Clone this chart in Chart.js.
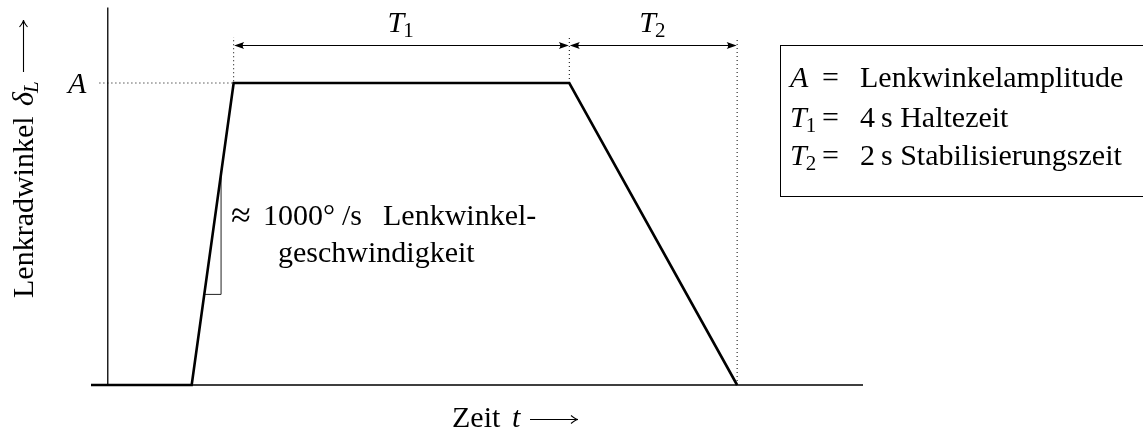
<!DOCTYPE html>
<html>
<head>
<meta charset="utf-8">
<script src="https://cdn.jsdelivr.net/npm/chart.js@4.4.1/dist/chart.umd.min.js"></script>
<style>
  html, body { margin: 0; padding: 0; background: #fff; }
  #wrap { width: 1143px; height: 432px; position: relative; }
</style>
</head>
<body>
<div id="wrap"><canvas id="lenkChart"></canvas></div>
<script>
// Zeit in s (0 = y-Achse), Lenkradwinkel normiert auf A = 1
const zeit = [-0.2, 1.0, 1.5, 5.5, 7.5];
const lenkwinkel = [0, 0, 1, 1, 0];

// Steigungsdreieck an der Rampe
const dreieckZeit = [1.15, 1.35, 1.35];
const dreieckWinkel = [0.30, 0.30, 0.70];

// gepunktete Hilfslinien (null = Lücke)
const hilfZeit = [-0.1, 1.5, 1.5, null, 5.5, 5.5, null, 7.5, 7.5];
const hilfWinkel = [1, 1, 1.152, null, 1, 1.152, null, 0, 1.152];

// Bemaßung oben
const t1Bereich = [1.5, 5.5]; // 4 s Haltezeit
const t2Bereich = [5.5, 7.5]; // 2 s Stabilisierung
const pfeilHoehe = 1.126;

const xBereich = [-0.2, 9.0];
const yBereich = [0, 1.25];

const legendeZeilen = [
  ['A', '', 'Lenkwinkelamplitude'],
  ['T', '1', '4\u2009s Haltezeit'],
  ['T', '2', '2\u2009s Stabilisierungszeit']
];

const FONT = '"Liberation Serif", "Times New Roman", serif';
const GR = 30;

function punkte(xs, ys) {
  return xs.map((v, i) => ({ x: v, y: ys[i] }));
}

function spitze(ctx, px, py, dx, dy) {
  // gefüllte Pfeilspitze, Richtung (dx, dy)
  const nx = -dy, ny = dx;
  ctx.beginPath();
  ctx.moveTo(px, py);
  ctx.lineTo(px - dx * 10 + nx * 3.6, py - dy * 10 + ny * 3.6);
  ctx.quadraticCurveTo(px - dx * 7, py - dy * 7, px - dx * 10 - nx * 3.6, py - dy * 10 - ny * 3.6);
  ctx.closePath();
  ctx.fill();
}

function offeneSpitze(ctx, px, py, dx, dy) {
  const nx = -dy, ny = dx;
  ctx.beginPath();
  ctx.moveTo(px - dx * 7 + nx * 4, py - dy * 7 + ny * 4);
  ctx.quadraticCurveTo(px - dx * 2, py - dy * 2, px, py);
  ctx.quadraticCurveTo(px - dx * 2, py - dy * 2, px - dx * 7 - nx * 4, py - dy * 7 - ny * 4);
  ctx.stroke();
}

function mitIndex(ctx, haupt, index, x, yb, size, indexKursiv) {
  ctx.font = 'italic ' + size + 'px ' + FONT;
  ctx.fillText(haupt, x, yb);
  const w = ctx.measureText(haupt).width;
  if (index) {
    ctx.font = (indexKursiv ? 'italic ' : '') + Math.round(size * 0.7) + 'px ' + FONT;
    ctx.fillText(index, x + w - 1, yb + size * 0.17);
  }
}

const skizze = {
  id: 'skizze',
  beforeDatasetsDraw(chart) {
    const { ctx, scales: { x, y } } = chart;
    ctx.save();
    ctx.strokeStyle = '#000';
    ctx.lineWidth = 1.3;
    ctx.beginPath();
    ctx.moveTo(x.getPixelForValue(xBereich[0]), y.getPixelForValue(0));
    ctx.lineTo(x.getPixelForValue(xBereich[1]), y.getPixelForValue(0));
    ctx.moveTo(x.getPixelForValue(0), y.getPixelForValue(0));
    ctx.lineTo(x.getPixelForValue(0), y.getPixelForValue(yBereich[1]));
    ctx.stroke();
    ctx.restore();
  },
  afterDraw(chart) {
    const { ctx, scales: { x, y } } = chart;
    ctx.save();
    ctx.fillStyle = '#000';
    ctx.strokeStyle = '#000';
    ctx.textBaseline = 'alphabetic';

    // Bemaßungspfeile T1, T2
    const py = Math.round(y.getPixelForValue(pfeilHoehe)) + 0.5;
    ctx.lineWidth = 1;
    [t1Bereich, t2Bereich].forEach(b => {
      const a = x.getPixelForValue(b[0]) + 0.5;
      const e = x.getPixelForValue(b[1]) - 0.5;
      ctx.beginPath();
      ctx.moveTo(a + 6, py);
      ctx.lineTo(e - 6, py);
      ctx.stroke();
      spitze(ctx, a, py, -1, 0);
      spitze(ctx, e, py, 1, 0);
    });
    const mitte1 = (x.getPixelForValue(t1Bereich[0]) + x.getPixelForValue(t1Bereich[1])) / 2;
    const mitte2 = (x.getPixelForValue(t2Bereich[0]) + x.getPixelForValue(t2Bereich[1])) / 2;
    mitIndex(ctx, 'T', '1', mitte1 - 14, 32, GR);
    mitIndex(ctx, 'T', '2', mitte2 - 14, 32, GR);

    // A an der y-Achse
    ctx.font = 'italic ' + GR + 'px ' + FONT;
    ctx.fillText('A', 68, 93);

    // Steigungstext
    ctx.font = '36px ' + FONT;
    ctx.fillText('\u2248', 231, 227);
    ctx.font = GR + 'px ' + FONT;
    ctx.fillText('1000\u00b0', 263, 225);
    ctx.fillText('/s', 342, 225);
    ctx.fillText('Lenkwinkel-', 383, 225);
    ctx.fillText('geschwindigkeit', 278, 262);

    // Achsentitel x
    ctx.fillText('Zeit', 452, 427);
    ctx.font = 'italic ' + GR + 'px ' + FONT;
    ctx.fillText('t', 512, 427);
    ctx.lineWidth = 1.1;
    ctx.beginPath();
    ctx.moveTo(530, 419.5);
    ctx.lineTo(577, 419.5);
    ctx.stroke();
    offeneSpitze(ctx, 578, 419.5, 1, 0);

    // Achsentitel y (gedreht)
    ctx.save();
    ctx.translate(33, 298);
    ctx.rotate(-Math.PI / 2);
    ctx.font = GR + 'px ' + FONT;
    ctx.fillText('Lenkradwinkel', 0, 0);
    mitIndex(ctx, '\u03b4', 'L', 192, 0, GR, true);
    ctx.restore();
    ctx.beginPath();
    ctx.moveTo(23.5, 72);
    ctx.lineTo(23.5, 21);
    ctx.stroke();
    offeneSpitze(ctx, 23.5, 20, 0, -1);

    // Legendenkasten
    ctx.lineWidth = 1;
    ctx.strokeRect(780.5, 45.5, 400, 151);
    const basis = [87, 127, 165];
    legendeZeilen.forEach((z, i) => {
      mitIndex(ctx, z[0], z[1], 790, basis[i], GR);
      ctx.font = GR + 'px ' + FONT;
      ctx.fillText('=', 822, basis[i]);
      ctx.fillText(z[2], 860, basis[i]);
    });
    ctx.restore();
  }
};

new Chart(document.getElementById('lenkChart').getContext('2d'), {
  type: 'scatter',
  data: {
    datasets: [
      {
        label: 'Lenkradwinkel',
        data: punkte(zeit, lenkwinkel),
        showLine: true,
        borderColor: '#000',
        borderWidth: 2.6,
        borderJoinStyle: 'miter',
        pointRadius: 0,
        clip: false
      },
      {
        label: 'Steigungsdreieck',
        data: punkte(dreieckZeit, dreieckWinkel),
        showLine: true,
        borderColor: '#222',
        borderWidth: 1,
        pointRadius: 0,
        clip: false
      },
      {
        label: 'Hilfslinien',
        data: punkte(hilfZeit, hilfWinkel),
        showLine: true,
        spanGaps: false,
        borderColor: '#000',
        borderWidth: 1,
        borderDash: [1, 3],
        pointRadius: 0,
        clip: false
      }
    ]
  },
  options: {
    responsive: true,
    maintainAspectRatio: false,
    animation: false,
    layout: { padding: { left: 91, right: 280, top: 7.5, bottom: 47 } },
    plugins: { legend: { display: false }, tooltip: { enabled: false } },
    scales: {
      x: { type: 'linear', min: xBereich[0], max: xBereich[1], display: false },
      y: { type: 'linear', min: yBereich[0], max: yBereich[1], display: false }
    }
  },
  plugins: [skizze]
});
</script>
</body>
</html>
